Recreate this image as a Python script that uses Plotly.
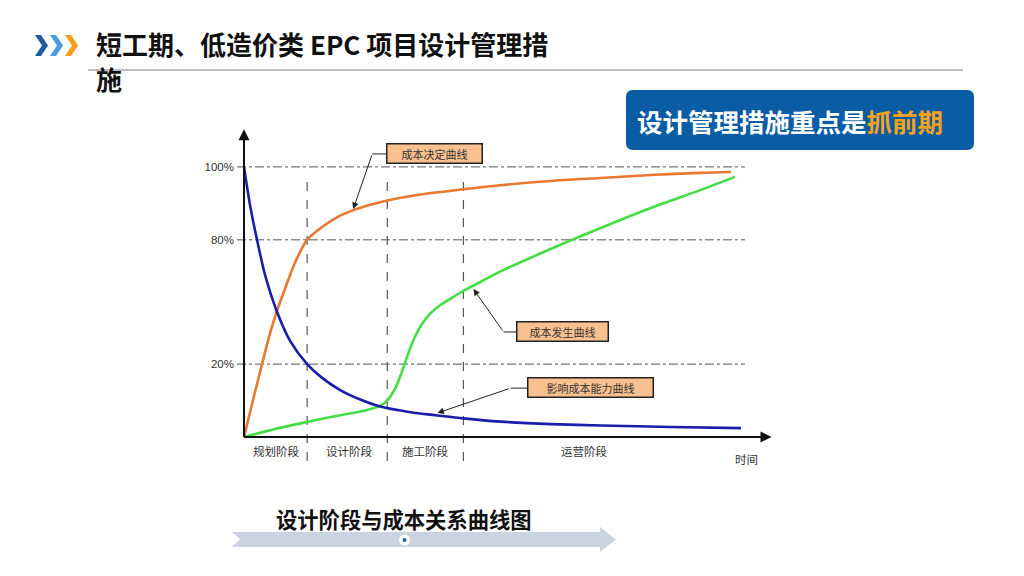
import plotly.graph_objects as go

# ---------------- data (schematic: x = time units, y = schematic height, 100 = 100%) ----------------
blue_x = [0, 6, 13, 21, 33, 46, 63, 78, 96, 116, 136, 166, 193, 219, 256, 306, 356, 426, 496]
blue_y = [100, 85.9, 73.0, 60.0, 46.3, 35.6, 27.0, 21.9, 17.4, 13.9, 11.3, 9.2, 8.0, 6.9, 5.7, 4.8, 4.3, 3.7, 3.3]

orange_x = [0, 9, 18, 26, 33, 41, 51, 63, 79, 94, 109, 126, 143, 176, 219, 256, 306, 356, 406, 456, 486]
orange_y = [0, 13.7, 27.0, 38.5, 46.8, 55.0, 64.6, 73.0, 78.0, 81.6, 84.0, 86.0, 87.6, 89.8, 91.7, 93.2,
            94.8, 95.9, 97.0, 97.8, 98.1]

green_x = [0, 31, 63, 96, 121, 136, 143, 151, 156, 161, 166, 171, 178, 186, 196, 206, 219, 236, 256,
           306, 356, 406, 456, 490]
green_y = [0, 3.0, 5.6, 8.1, 9.8, 11.6, 13.5, 18.1, 22.6, 27.8, 33.0, 37.4, 42.0, 45.8, 48.9, 51.2,
           54.1, 57.4, 61.3, 69.6, 77.4, 84.8, 91.5, 96.3]

pct_levels = [27.0, 73.0, 100.0]
pct_labels = ["20%", "80%", "100%"]

phase_bounds = [63, 143, 219]
phase_names = ["规划阶段", "设计阶段", "施工阶段", "运营阶段"]
phase_centers = [32, 105, 181, 340]

curve_labels = ["成本决定曲线", "成本发生曲线", "影响成本能力曲线"]
label_box_xy = [(190, 105.0), (318, 38.9), (345.5, 18.3)]
label_box_w = [92, 88, 122]
label_elbow = [(128, 104.8), (259, 38.9), (266, 18.1)]
label_tip = [(109, 84.4), (229, 54.8), (193, 8.9)]

title_lines = ["短工期、低造价类 EPC 项目设计管理措", "施"]

X_MAX = 526
Y_TOP = 114.4
Y_BOT = -12.2
X_LEFT = -7

# ---------------- figure ----------------
OFF = 8                      # page body margin of the html output
W, H = 1024 - OFF, 576 - OFF
L, R, T, B = 237, 771, 128, 470   # plot area in screen pixels


def px(x):
    return (x - L) / (R - L)


def py(y):
    return (B - y) / (B - T)


fig = go.Figure()
fig.add_trace(go.Scatter(x=orange_x, y=orange_y, mode="lines", line=dict(color="#E8792F", width=2.6,
                                                                           shape="spline", smoothing=0.8),
                         hoverinfo="skip"))
fig.add_trace(go.Scatter(x=green_x, y=green_y, mode="lines", line=dict(color="#44DD44", width=2.6,
                                                                         shape="spline", smoothing=0.8),
                         hoverinfo="skip"))
fig.add_trace(go.Scatter(x=blue_x, y=blue_y, mode="lines", line=dict(color="#1C1CAA", width=2.6,
                                                                       shape="spline", smoothing=0.8),
                         hoverinfo="skip"))

shapes = []
for lv in pct_levels:
    shapes.append(dict(type="line", xref="x", yref="y", x0=X_LEFT, x1=500, y0=lv, y1=lv,
                       line=dict(color="#555555", width=1, dash="dashdot"), layer="below"))
for bx in phase_bounds:
    shapes.append(dict(type="line", xref="x", yref="y", x0=bx, x1=bx, y0=94.4, y1=-11,
                       line=dict(color="#555555", width=1.2, dash="dash"), layer="below"))
for (bx, by), w, (ex, ey) in zip(label_box_xy, label_box_w, label_elbow):
    shapes.append(dict(type="line", xref="x", yref="y", x0=ex, y0=ey, x1=bx - w / 2 - 2, y1=ey,
                       line=dict(color="#222222", width=1)))

# ---- slide decorations (paper coords) ----
chev = [(35, "#1F5C9E"), (50, "#4A9BE0"), (65, "#F59C1A")]
for x0, c in chev:
    w, t, y0, y1 = 13, 6, 35, 56
    ym = (y0 + y1) / 2
    pts = [(x0, y0), (x0 + t, y0), (x0 + w, ym), (x0 + t, y1), (x0, y1), (x0 + w - t, ym)]
    path = "M " + " L ".join(f"{px(a):.5f},{py(b):.5f}" for a, b in pts) + " Z"
    shapes.append(dict(type="path", xref="paper", yref="paper", path=path, fillcolor=c, line=dict(width=0)))
shapes.append(dict(type="line", xref="paper", yref="paper", x0=px(88), x1=px(963), y0=py(70), y1=py(70),
                   line=dict(color="#AAAAAA", width=1.5)))
bx0, bx1, by0, by1, r = 626, 974, 90, 150, 7
rp = (f"M {px(bx0 + r)},{py(by0)} L {px(bx1 - r)},{py(by0)} Q {px(bx1)},{py(by0)} {px(bx1)},{py(by0 + r)} "
      f"L {px(bx1)},{py(by1 - r)} Q {px(bx1)},{py(by1)} {px(bx1 - r)},{py(by1)} "
      f"L {px(bx0 + r)},{py(by1)} Q {px(bx0)},{py(by1)} {px(bx0)},{py(by1 - r)} "
      f"L {px(bx0)},{py(by0 + r)} Q {px(bx0)},{py(by0)} {px(bx0 + r)},{py(by0)} Z")
shapes.append(dict(type="path", xref="paper", yref="paper", path=rp, fillcolor="#0A5CA5", line=dict(width=0)))
apts = [(232, 532), (600, 532), (600, 527), (616, 539.5), (600, 552), (600, 547), (232, 547), (240, 539.5)]
apath = "M " + " L ".join(f"{px(a):.5f},{py(b):.5f}" for a, b in apts) + " Z"
shapes.append(dict(type="path", xref="paper", yref="paper", path=apath, fillcolor="#CBD3E0", line=dict(width=0)))
shapes.append(dict(type="circle", xref="paper", yref="paper", x0=px(399), x1=px(410), y0=py(534.5), y1=py(545.5),
                   fillcolor="white", line=dict(width=0)))
shapes.append(dict(type="circle", xref="paper", yref="paper", x0=px(402.5), x1=px(406.5), y0=py(538), y1=py(542),
                   fillcolor="#1F5FA8", line=dict(width=0)))

annotations = []
annotations.append(dict(x=0, y=Y_TOP - 0.5, ax=0, ay=0, xref="x", yref="y", axref="x", ayref="y", text="",
                        showarrow=True, arrowhead=2, arrowsize=1.1, arrowwidth=2, arrowcolor="#111111"))
annotations.append(dict(x=X_MAX + 0.5, y=0, ax=0, ay=0, xref="x", yref="y", axref="x", ayref="y", text="",
                        showarrow=True, arrowhead=2, arrowsize=1.1, arrowwidth=2, arrowcolor="#111111"))
for name, cx in zip(phase_names, phase_centers):
    annotations.append(dict(x=cx, y=-5.3, xref="x", yref="y", text=name, showarrow=False,
                            font=dict(family="Noto Sans CJK SC", size=11.5, color="#333333")))
annotations.append(dict(x=502, y=-8, xref="x", yref="y", text="时间", showarrow=False,
                        font=dict(family="Noto Sans CJK SC", size=11.5, color="#333333")))
for txt, (bx, by), w, (ex, ey), (tx, ty) in zip(curve_labels, label_box_xy, label_box_w, label_elbow, label_tip):
    annotations.append(dict(x=bx, y=by, xref="x", yref="y", text=txt, showarrow=False, width=w, height=16,
                            bgcolor="#FAC08F", bordercolor="#222222", borderwidth=1.5, borderpad=1,
                            font=dict(family="Noto Sans CJK SC", size=11, color="#333333")))
    annotations.append(dict(x=tx, y=ty, ax=ex, ay=ey, xref="x", yref="y", axref="x", ayref="y", text="",
                            showarrow=True, arrowhead=2, arrowsize=1.3, arrowwidth=1, arrowcolor="#222222"))
for line_txt, ly in zip(title_lines, [43, 78]):
    annotations.append(dict(x=px(95), y=py(ly), xref="paper", yref="paper", xanchor="left", yanchor="middle",
                            align="left", showarrow=False, text=f"<b>{line_txt}</b>", borderpad=0,
                            font=dict(family="Noto Sans CJK SC", size=26, color="#111111")))
annotations.append(dict(x=px(635), y=py(120), xref="paper", yref="paper", xanchor="left", yanchor="middle",
                        showarrow=False,
                        text="<b>设计管理措施重点是<span style='color:#F7A21B'>抓前期</span></b>",
                        font=dict(family="Noto Sans CJK SC", size=25.5, color="#FFFFFF")))
annotations.append(dict(x=px(404), y=py(518), xref="paper", yref="paper", xanchor="center", yanchor="middle",
                        showarrow=False, text="<b>设计阶段与成本关系曲线图</b>",
                        font=dict(family="Noto Sans CJK SC", size=21.3, color="#111111")))

fig.update_layout(
    width=W, height=H,
    margin=dict(l=L - OFF, r=1024 - R, t=T - OFF, b=576 - B, pad=0),
    paper_bgcolor="white", plot_bgcolor="white",
    showlegend=False,
    xaxis=dict(range=[X_LEFT, X_MAX], visible=False, fixedrange=True),
    yaxis=dict(range=[Y_BOT, Y_TOP], showgrid=False, zeroline=False, showline=False, ticks="",
               tickvals=pct_levels, ticktext=pct_labels, ticklabelstandoff=2,
               tickfont=dict(family="Liberation Sans", size=11.5, color="#333333"), fixedrange=True),
    shapes=shapes, annotations=annotations,
)
fig.add_shape(type="line", xref="x", yref="y", x0=0, x1=0, y0=0, y1=Y_TOP - 3, line=dict(color="#111111", width=2))
fig.add_shape(type="line", xref="x", yref="y", x0=0, x1=X_MAX - 5, y0=0, y1=0, line=dict(color="#111111", width=2))

fig.write_html("out.html", config={"displayModeBar": False})
